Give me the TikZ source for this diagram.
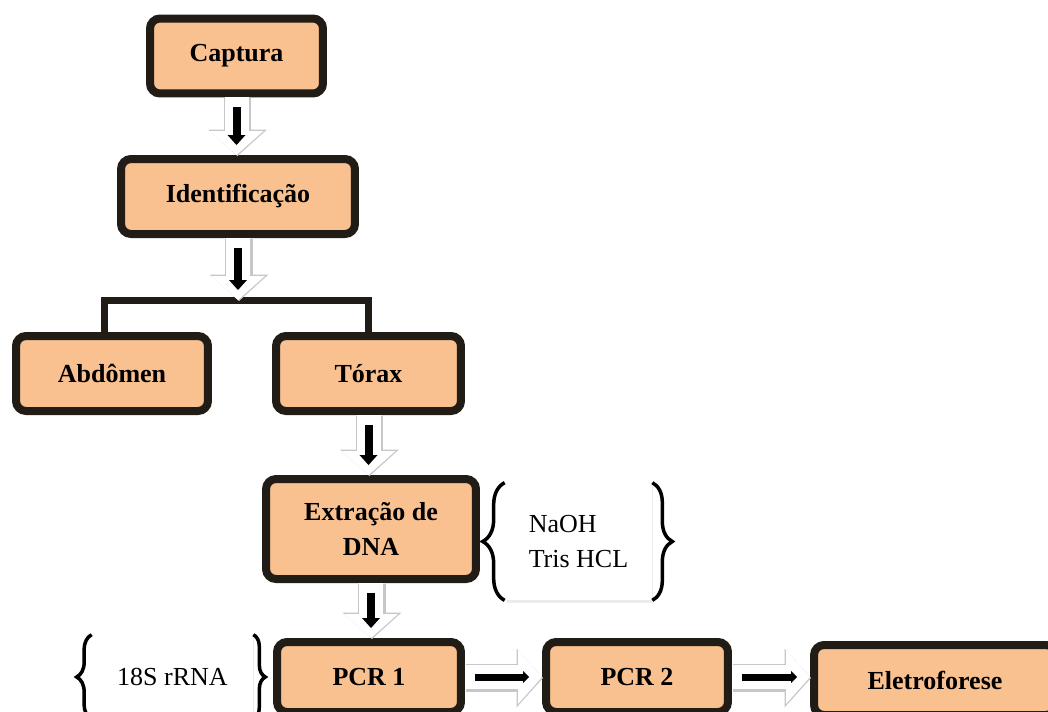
\documentclass[tikz,border=0pt]{standalone}
\usepackage{fontspec}
\setmainfont{Liberation Serif}
\usepackage{tikz}
\usetikzlibrary{arrows.meta,positioning,calc,shadows,decorations.pathreplacing}
\definecolor{peach}{HTML}{F9C090}
\definecolor{boxline}{HTML}{211C15}

\begin{document}
\begin{tikzpicture}[x=0.02cm,y=-0.02cm,font=\fontsize{14.8}{19.5}\selectfont,
  stepbox/.style={draw=boxline,line width=0.16cm,fill=peach,rounded corners=0.2cm,
    font=\fontsize{14.8}{19.5}\selectfont\bfseries,align=center,minimum height=1.5cm,
    drop shadow={shadow xshift=0.05cm,shadow yshift=-0.05cm,opacity=0.3}},
  notebox/.style={fill=white,align=left,inner sep=0pt,
    drop shadow={shadow xshift=0.03cm,shadow yshift=-0.06cm,opacity=0.15}},
  curly/.style={draw=black,line width=0.07cm,decorate,decoration={brace,amplitude=#1}},
  curly/.default=0.4cm,
  forkline/.style={draw=boxline,line width=0.14cm},
  flowshadow/.style={black!22,line width=0.55cm,
    -{Triangle[length=0.53cm,width=1.18cm,line width=0pt]},
    transform canvas={xshift=0.02cm,yshift=-0.02cm}},
  flowbody/.style={white,line width=0.48cm,
    -{Triangle[length=0.48cm,width=1.08cm,line width=0pt]}},
  flowcore/.style={black,line width=0.16cm,shorten <=0.2cm,shorten >=0.2cm,
    -{Triangle[length=0.2cm,width=0.36cm,line width=0pt]}},
  flowcoreh/.style={black,line width=0.14cm,shorten <=0.2cm,shorten >=0.26cm,
    -{Triangle[length=0.12cm,width=0.24cm,line width=0pt]}}]
  \useasboundingbox (0,0) rectangle (1048,711);

  \node[stepbox,minimum width=3.46cm] (cap) at (236.5,56) {Captura};
  \node[stepbox,minimum width=4.68cm] (ident) at (238,196.5) {Identificação};
  \node[stepbox,minimum width=3.84cm] (abd) at (112,373.5) {Abdômen};
  \node[stepbox,minimum width=3.7cm] (tor) at (368.5,373.5) {Tórax};
  \node[stepbox,minimum width=4.2cm,minimum height=2cm] (ext) at (371,529) {Extração de\\DNA};
  \node[stepbox,minimum width=3.68cm,minimum height=1.4cm] (pcr1) at (369,677) {PCR 1};
  \node[stepbox,minimum width=3.64cm,minimum height=1.4cm] (pcr2) at (637,677) {PCR 2};
  \node[stepbox,minimum width=4.84cm,minimum height=1.4cm] (elet) at (935,680) {Eletroforese};

  \node[notebox,minimum width=2.94cm,minimum height=2.34cm] (naoh) at (578.5,541.5) {NaOH\\Tris HCL};
  \draw[curly=0.44cm] (naoh.south west) -- (naoh.north west);
  \draw[curly=0.4cm] (naoh.north east) -- (naoh.south east);
  \node[notebox,minimum width=3.22cm,minimum height=1.68cm] (rrna) at (172.5,677) {18S rRNA};
  \draw[curly=0.3cm] (rrna.south west) -- (rrna.north west);
  \draw[curly=0.24cm] (rrna.north east) -- (rrna.south east);

  \coordinate (fork) at (237,300);
  \draw[forkline] ([xshift=-0.16cm]abd.north) |- (fork) -| (tor.north);

  \foreach \s in {flowshadow,flowbody,flowcore} {
    \draw[\s] (ident.south) -- (ident.south |- fork);
    \foreach \a/\b in {cap/ident,tor/ext,ext/pcr1}
      \draw[\s] (\a.south) -- (\a.south |- \b.north);
  }
  \foreach \s in {flowshadow,flowbody,flowcoreh}
    \foreach \a/\b in {pcr1/pcr2,pcr2/elet}
      \draw[\s] (\a.east) -- (\a.east -| \b.west);
\end{tikzpicture}
\end{document}
